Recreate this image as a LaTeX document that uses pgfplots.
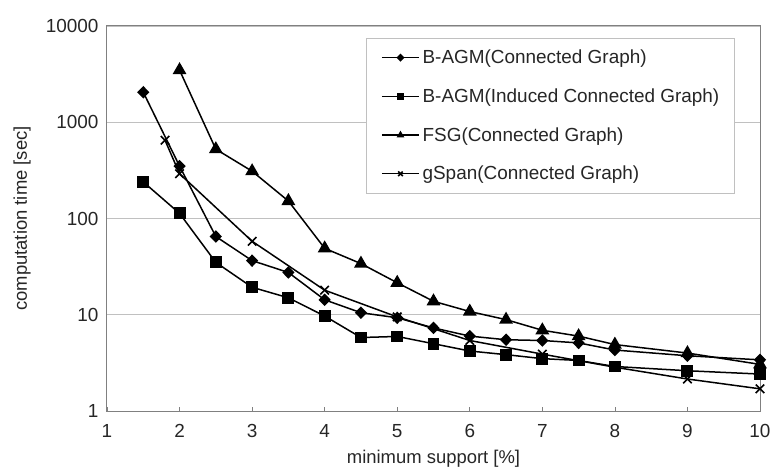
\documentclass[border=0pt]{standalone}
\usepackage{fontspec}
\setmainfont{Liberation Sans}
\usepackage{pgfplots}
\pgfplotsset{compat=1.18}
\definecolor{gridc}{RGB}{192,192,192}
\definecolor{axc}{RGB}{128,128,128}
\begin{document}
\begin{tikzpicture}
\useasboundingbox (-107bp,-57bp) rectangle (665bp,411bp);
\begin{axis}[
  at={(0,0)}, anchor=origin,
  scale only axis, width=653bp, height=385bp,
  ymode=log, log basis y=10,
  xmin=1, xmax=10, ymin=1, ymax=10000,
  xtick={1,2,3,4,5,6,7,8,9,10},
  xticklabels={1,2,3,4,5,6,7,8,9,10},
  ytick={1,10,100,1000,10000},
  yticklabels={1,10,100,1000,10000},
  minor ytick={}, 
  yminorticks=false,
  tick align=inside,
  xtick pos=bottom, ytick pos=left,
  major tick length=4bp,
  ytick style={draw=none},
  xtick style={axc, line width=0.6bp},
  ymajorgrids, grid style={gridc, line width=0.8bp},
  axis line style={axc, line width=1bp},
  tick label style={font=\fontsize{19}{22}\selectfont, text=black!85},
  xticklabel style={yshift=-10bp},
  yticklabel style={xshift=-5bp},
  label style={font=\fontsize{18.5}{22}\selectfont, text=black!85},
  xlabel={minimum support [\%]},
  ylabel={computation time [sec]},
  xlabel style={at={(axis description cs:0.5,-0.125)}, anchor=center},
  ylabel style={at={(axis description cs:-0.130,0.5)}, anchor=center},
  clip=false,
  every axis plot/.append style={black, line width=1.5bp},
  legend image code/.code={\draw[mark repeat=2,mark phase=2,mark size=3.2bp,line width=1.2bp] plot coordinates {(0bp,0bp) (18.5bp,0bp) (37bp,0bp)};},
  legend cell align=left,
  legend style={at={(rel axis cs:0.3966,0.969)}, anchor=north west,
    draw=gridc, line width=0.8bp, fill=white,
    font=\fontsize{19}{22}\selectfont, text=black!85,
    inner xsep=15bp, inner ysep=0bp, row sep=0bp,
    nodes={inner sep=0pt, minimum height=38.7bp},
    column sep=3bp},
]
\addplot[mark=diamond*, mark size=5.2bp, mark options={xscale=1.3}] coordinates {
(1.5,2050)(2,350)(2.5,65)(3,36.5)(3.5,27.5)(4,14.3)(4.5,10.5)(5,9.3)(5.5,7.3)(6,6.0)(6.5,5.5)(7,5.4)(7.5,5.1)(8,4.3)(9,3.75)(10,3.4)};
\addlegendentry{B-AGM(Connected Graph)}
\addplot[mark=square*, mark size=5.2bp] coordinates {
(1.5,240)(2,113)(2.5,35)(3,19.3)(3.5,15)(4,9.7)(4.5,5.8)(5,5.95)(5.5,5.0)(6,4.2)(6.5,3.85)(7,3.5)(7.5,3.35)(8,2.9)(9,2.62)(10,2.42)};
\addlegendentry{B-AGM(Induced Connected Graph)}
\addplot[mark=triangle*, mark size=6.5bp] coordinates {
(2,3480)(2.5,525)(3,310)(3.5,152)(4,49)(4.5,34)(5,21.5)(5.5,13.8)(6,10.8)(6.5,8.9)(7,6.9)(7.5,6.0)(8,4.9)(9,4.0)(10,3.05)};
\addlegendentry{FSG(Connected Graph)}
\addplot[mark=x, mark size=6bp, mark options={line width=1.6bp}] coordinates {
(1.8,650)(2,292)(3,58)(4,18)(5,9.5)(6,5.4)(7,3.9)(8,2.85)(9,2.15)(10,1.7)};
\addlegendentry{gSpan(Connected Graph)}
\end{axis}
\end{tikzpicture}
\end{document}
